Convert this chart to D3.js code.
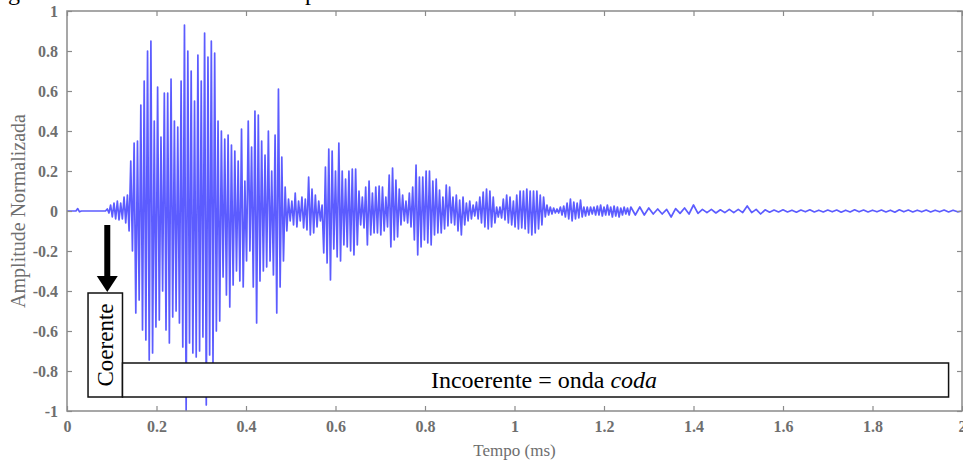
<!DOCTYPE html>
<html>
<head>
<meta charset="utf-8">
<script src="https://cdn.jsdelivr.net/npm/d3@7/dist/d3.min.js"></script>
<style>
  body { margin: 0; background: #fff; }
  svg { display: block; }
  text { font-family: "Liberation Serif", "Times New Roman", serif; }
</style>
</head>
<body>
<svg id="chart" width="963" height="461"></svg>
<script>
// Axis ticks and labels
const xTicks = [0, 0.2, 0.4, 0.6, 0.8, 1, 1.2, 1.4, 1.6, 1.8, 2];
const xTickLabels = ["0", "0.2", "0.4", "0.6", "0.8", "1", "1.2", "1.4", "1.6", "1.8", "2"];
const yTicks = [-1, -0.8, -0.6, -0.4, -0.2, 0, 0.2, 0.4, 0.6, 0.8, 1];
const yTickLabels = ["-1", "-0.8", "-0.6", "-0.4", "-0.2", "0", "0.2", "0.4", "0.6", "0.8", "1"];

// Quiet signal before the first arrival (time in ms, normalised amplitude)
const leadTimes  = [0, 0.020, 0.024, 0.028, 0.032, 0.086];
const leadValues = [0, 0,     0.012, -0.004, 0,    0];

// Main burst: one crest and one trough per sampling period
const burstStart = 0.09;
const burstStep = 0.0075;
const burstCrests = [
  0.01, 0.03, 0.04, 0.05, 0.04, 0.07, 0.08, 0.25, 0.34, 0.35,
  0.53, 0.65, 0.80, 0.85, 0.45, 0.62, 0.37, 0.59, 0.59, 0.66,
  0.45, 0.42, 0.65, 0.93, 0.80, 0.70, 0.55, 0.78, 0.65, 0.89,
  0.77, 0.85, 0.79, 0.45, 0.40, 0.36, 0.38, 0.33, 0.30, 0.25,
  0.41, 0.15, 0.45, 0.32, 0.50, 0.48, 0.35, 0.28, 0.40, 0.20,
  0.38, 0.61, 0.27, 0.12, 0.06, 0.05, 0.09, 0.05, 0.07, 0.06,
  0.17, 0.11, 0.08, 0.05, 0.03, 0.22, 0.31, 0.30, 0.20, 0.34,
  0.20, 0.16, 0.20, 0.21, 0.21, 0.10, 0.07, 0.12, 0.15, 0.09,
  0.12, 0.125, 0.12, 0.07, 0.18, 0.215, 0.155, 0.11, 0.08, 0.05,
  0.09, 0.12, 0.23, 0.17, 0.17, 0.20, 0.20, 0.15, 0.16, 0.105,
  0.07, 0.13, 0.12, 0.07, 0.08, 0.055, 0.07, 0.04, 0.05, 0.03,
  0.045, 0.07, 0.095, 0.11, 0.10, 0.07, 0.02, 0.02, 0.06, 0.08,
  0.07, 0.05, 0.08, 0.10, 0.10, 0.11, 0.10, 0.10, 0.10, 0.08,
  0.07, 0.03, 0.02, 0.015, 0.01, 0.02, 0.025, 0.04, 0.06, 0.045,
  0.04, 0.055, 0.02, 0.02, 0.02, 0.02, 0.025, 0.03, 0.02, 0.03,
  0.02, 0.025, 0.02, 0.015, 0.02, 0.015
];
const burstTroughs = [
  -0.01, -0.03, -0.04, -0.045, -0.04, -0.06, -0.10, -0.20, -0.51, -0.445,
  -0.595, -0.645, -0.745, -0.71, -0.58, -0.545, -0.40, -0.595, -0.66, -0.53,
  -0.50, -0.56, -0.68, -1.00, -0.66, -0.71, -0.73, -0.70, -0.63, -0.97,
  -0.72, -0.76, -0.60, -0.55, -0.33, -0.42, -0.48, -0.37, -0.30, -0.35,
  -0.38, -0.25, -0.20, -0.38, -0.56, -0.35, -0.30, -0.28, -0.25, -0.32,
  -0.51, -0.38, -0.25, -0.10, -0.05, -0.07, -0.08, -0.05, -0.085, -0.095,
  -0.12, -0.11, -0.08, -0.05, -0.21, -0.26, -0.345, -0.19, -0.23, -0.25,
  -0.17, -0.18, -0.20, -0.22, -0.17, -0.07, -0.085, -0.17, -0.12, -0.11,
  -0.11, -0.12, -0.10, -0.08, -0.18, -0.145, -0.13, -0.07, -0.05, -0.06,
  -0.08, -0.145, -0.22, -0.18, -0.145, -0.16, -0.17, -0.12, -0.11, -0.11,
  -0.09, -0.075, -0.06, -0.07, -0.10, -0.12, -0.07, -0.05, -0.04, -0.025,
  -0.04, -0.06, -0.08, -0.09, -0.08, -0.06, -0.03, -0.035, -0.045, -0.06,
  -0.07, -0.08, -0.09, -0.085, -0.09, -0.11, -0.12, -0.11, -0.09, -0.07,
  -0.03, -0.02, -0.015, -0.01, -0.01, -0.02, -0.03, -0.04, -0.05, -0.04,
  -0.035, -0.03, -0.025, -0.02, -0.015, -0.02, -0.02, -0.025, -0.02, -0.02,
  -0.03, -0.025, -0.03, -0.02, -0.015, -0.02
];

// Late coda: slow low-level ripple
const tailStart = 1.26;
const tailStep = 0.02;
const tailCrests = [
  0.02, 0.02, 0.015, 0.01, 0.008, 0.012, 0.015, 0.03, 0.008, 0.008,
  0.006, 0.008, 0.008, 0.025, 0.008, 0.006, 0.005, 0.006, 0.004, 0.005,
  0.006, 0.004, 0.005, 0.005, 0.004, 0.006, 0.005, 0.004, 0.005, 0.004,
  0.006, 0.005, 0.004, 0.005, 0.004, 0.005, 0.004
];
const tailTroughs = [
  -0.02, -0.02, -0.015, -0.015, -0.03, -0.012, -0.015, -0.012, -0.008, -0.01,
  -0.008, -0.008, -0.008, -0.008, -0.015, -0.006, -0.005, -0.005, -0.006, -0.004,
  -0.005, -0.005, -0.004, -0.006, -0.005, -0.004, -0.005, -0.004, -0.005, -0.006,
  -0.004, -0.005, -0.004, -0.005, -0.004, -0.005, -0.004
];

// Assemble the waveform as [time, amplitude] pairs
const signal = [];
leadTimes.forEach((t, i) => signal.push([t, leadValues[i]]));
burstCrests.forEach((v, i) => {
  signal.push([burstStart + i * burstStep, v]);
  signal.push([burstStart + (i + 0.5) * burstStep, burstTroughs[i]]);
});
tailCrests.forEach((v, i) => {
  signal.push([tailStart + i * tailStep, v]);
  signal.push([tailStart + (i + 0.5) * tailStep, tailTroughs[i]]);
});
signal.push([2, 0]);

const svg = d3.select("#chart");
const margin = { left: 67, right: 1, top: 11, bottom: 50 };
const W = 963, H = 461;
const x = d3.scaleLinear().domain([0, 2]).range([margin.left, W - margin.right]);
const y = d3.scaleLinear().domain([-1, 1]).range([H - margin.bottom, margin.top]);

const axisColor = "#8a8a8a";
const labelColor = "#6e6e6e";

// Caption line above the figure, mostly out of view
svg.append("text").attr("x", 8).attr("y", 0).attr("font-size", 24).attr("fill", "#000").text("g");
svg.append("text").attr("x", 305).attr("y", 0).attr("font-size", 24).attr("fill", "#000").text("p");

svg.append("defs").append("clipPath").attr("id", "plotClip")
  .append("rect")
  .attr("x", x(0)).attr("y", y(1))
  .attr("width", x(2) - x(0)).attr("height", y(-1) - y(1));

// Waveform
const line = d3.line().x(d => x(d[0])).y(d => y(d[1]));
svg.append("path")
  .datum(signal)
  .attr("clip-path", "url(#plotClip)")
  .attr("fill", "none")
  .attr("stroke", "#4a4aff")
  .attr("stroke-opacity", 0.9)
  .attr("stroke-width", 1.7)
  .attr("stroke-linejoin", "round")
  .attr("d", line);

// Axes with inward ticks on all four sides
function styleAxis(g, showLabels) {
  g.select(".domain").remove();
  g.selectAll(".tick line").attr("stroke", axisColor).attr("stroke-width", 1.2);
  g.selectAll(".tick text")
    .attr("fill", labelColor)
    .attr("font-size", 16)
    .attr("font-weight", "bold")
    .style("font-family", "'Liberation Serif', serif");
  if (!showLabels) g.selectAll(".tick text").remove();
}
svg.append("g").attr("transform", `translate(0,${y(-1)})`)
  .call(d3.axisBottom(x).tickValues(xTicks).tickFormat((d, i) => xTickLabels[i]).tickSize(-5).tickPadding(10))
  .call(g => styleAxis(g, true));
svg.append("g").attr("transform", `translate(0,${y(1)})`)
  .call(d3.axisTop(x).tickValues(xTicks).tickSize(-5))
  .call(g => styleAxis(g, false));
svg.append("g").attr("transform", `translate(${x(0)},0)`)
  .call(d3.axisLeft(y).tickValues(yTicks).tickFormat((d, i) => yTickLabels[i]).tickSize(-5).tickPadding(9))
  .call(g => styleAxis(g, true));
svg.append("g").attr("transform", `translate(${x(2)},0)`)
  .call(d3.axisRight(y).tickValues(yTicks).tickSize(-5))
  .call(g => styleAxis(g, false));

svg.append("rect")
  .attr("x", x(0)).attr("y", y(1))
  .attr("width", x(2) - x(0)).attr("height", y(-1) - y(1))
  .attr("fill", "none").attr("stroke", axisColor).attr("stroke-width", 1.5);

// Axis titles
svg.append("text")
  .attr("x", (x(0) + x(2)) / 2).attr("y", 456)
  .attr("text-anchor", "middle").attr("font-size", 17).attr("fill", labelColor)
  .text("Tempo (ms)");
svg.append("text")
  .attr("transform", `translate(25,${y(0)}) rotate(-90)`)
  .attr("text-anchor", "middle").attr("font-size", 20).attr("fill", labelColor)
  .text("Amplitude Normalizada");

// Annotations: arrival arrow and the coherent / incoherent windows
const arrowT = 0.09;
svg.append("line")
  .attr("x1", x(arrowT)).attr("x2", x(arrowT))
  .attr("y1", y(-0.07)).attr("y2", y(-0.33))
  .attr("stroke", "#000").attr("stroke-width", 6);
svg.append("path")
  .attr("d", `M${x(arrowT) - 10.5},${y(-0.325)} L${x(arrowT) + 10.5},${y(-0.325)} L${x(arrowT)},${y(-0.405)} Z`)
  .attr("fill", "#000");

svg.append("rect")
  .attr("x", x(0.047)).attr("y", y(-0.41))
  .attr("width", x(0.124) - x(0.047)).attr("height", y(-0.93) - y(-0.41))
  .attr("fill", "#fff").attr("stroke", "#111").attr("stroke-width", 1.5);
svg.append("text")
  .attr("transform", `translate(${(x(0.047) + x(0.124)) / 2 + 8},${y(-0.67)}) rotate(-90)`)
  .attr("text-anchor", "middle").attr("font-size", 23).attr("fill", "#000")
  .text("Coerente");

svg.append("rect")
  .attr("x", x(0.124)).attr("y", y(-0.76))
  .attr("width", x(1.97) - x(0.124)).attr("height", y(-0.93) - y(-0.76))
  .attr("fill", "#fff").attr("stroke", "#111").attr("stroke-width", 1.5);
const inc = svg.append("text")
  .attr("x", 544).attr("y", y(-0.883))
  .attr("text-anchor", "middle").attr("font-size", 24).attr("fill", "#000");
inc.append("tspan").text("Incoerente = onda ");
inc.append("tspan").attr("font-style", "italic").text("coda");
</script>
</body>
</html>
